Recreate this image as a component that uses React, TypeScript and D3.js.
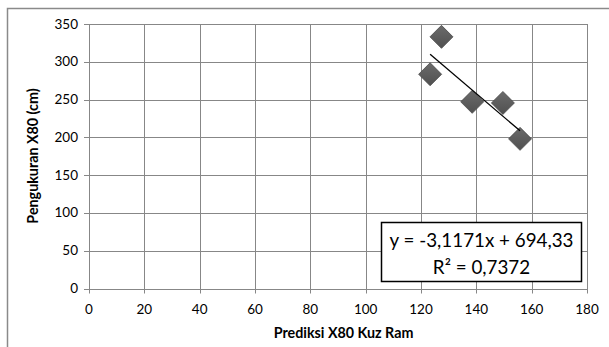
import * as d3 from "d3";
import React, { useEffect, useRef } from "react";

const predX = [123.3, 127.4, 138.5, 149.6, 155.8];
const measY = [283.5, 333, 247, 245.5, 198];
const xTicks = [0, 20, 40, 60, 80, 100, 120, 140, 160, 180];
const yTicks = [0, 50, 100, 150, 200, 250, 300, 350];
const slope = -3.1171;
const intercept = 694.33;
const eqLines = ["y = -3,1171x + 694,33", "R² = 0,7372"];

export default function App() {
  const ref = useRef<SVGSVGElement>(null);

  useEffect(() => {
    const W = 609;
    const H = 347;
    const margin = { top: 24, left: 89, right: 22, bottom: 58.5 };
    const width = W - margin.left - margin.right;
    const height = H - margin.top - margin.bottom;
    const font = "Lato, 'Open Sans', sans-serif";

    const svg = d3.select(ref.current);
    svg.selectAll("*").remove();
    svg
      .attr("width", W)
      .attr("height", H)
      .style("position", "absolute")
      .style("left", "0px")
      .style("top", "0px");

    svg.append("rect").attr("width", W).attr("height", H).attr("fill", "#fff");
    // chart frame, only left and top edges fall inside the picture
    svg
      .append("rect")
      .attr("x", 7.5)
      .attr("y", 8.5)
      .attr("width", W)
      .attr("height", H)
      .attr("fill", "none")
      .attr("stroke", "#8a8a8a")
      .attr("stroke-width", 1.5);

    const x = d3.scaleLinear().domain([0, 180]).range([0, width]);
    const y = d3.scaleLinear().domain([0, 350]).range([height, 0]);

    const main = svg
      .append("g")
      .attr("transform", `translate(${margin.left}, ${margin.top})`);

    // grid
    main
      .selectAll("line.vg")
      .data(xTicks)
      .enter()
      .append("line")
      .attr("x1", (d) => Math.round(x(d)) + 0.5)
      .attr("x2", (d) => Math.round(x(d)) + 0.5)
      .attr("y1", 0)
      .attr("y2", height + 5)
      .attr("stroke", "#878787");
    main
      .selectAll("line.hg")
      .data(yTicks)
      .enter()
      .append("line")
      .attr("x1", -5)
      .attr("x2", width)
      .attr("y1", (d) => Math.round(y(d)) + 0.5)
      .attr("y2", (d) => Math.round(y(d)) + 0.5)
      .attr("stroke", "#878787");

    // tick labels
    main
      .selectAll("text.xt")
      .data(xTicks)
      .enter()
      .append("text")
      .attr("x", (d) => x(d))
      .attr("y", height + 25)
      .attr("text-anchor", "middle")
      .attr("font-family", font)
      .attr("font-size", 13.5)
      .attr("fill", "#000")
      .text((d) => d);
    main
      .selectAll("text.yt")
      .data(yTicks)
      .enter()
      .append("text")
      .attr("x", -11)
      .attr("y", (d) => y(d) + 4.5)
      .attr("text-anchor", "end")
      .attr("font-family", font)
      .attr("font-size", 13.5)
      .attr("fill", "#000")
      .text((d) => d);

    // titles
    svg
      .append("text")
      .attr("x", margin.left + x(92))
      .attr("y", 338)
      .attr("text-anchor", "middle")
      .attr("font-family", font)
      .attr("font-weight", 700)
      .attr("font-size", 14.3)
      .text("Prediksi X80 Kuz Ram");
    svg
      .append("text")
      .attr("transform", `translate(38, 156) rotate(-90)`)
      .attr("text-anchor", "middle")
      .attr("font-family", font)
      .attr("font-weight", 700)
      .attr("font-size", 14.3)
      .text("Pengukuran X80 (cm)");

    // points
    const defs = svg.append("defs");
    const grad = defs
      .append("linearGradient")
      .attr("id", "dg")
      .attr("x1", 0)
      .attr("y1", 0)
      .attr("x2", 0)
      .attr("y2", 1);
    grad.append("stop").attr("offset", "0%").attr("stop-color", "#6b6b6b");
    grad.append("stop").attr("offset", "100%").attr("stop-color", "#505050");

    const pts = predX.map((v, i) => [v, measY[i]]);
    const r = 11.5;
    main
      .selectAll("path.pt")
      .data(pts)
      .enter()
      .append("path")
      .attr(
        "d",
        (d) =>
          `M${x(d[0])},${y(d[1]) - r}L${x(d[0]) + r},${y(d[1])}L${x(d[0])},${y(d[1]) + r}L${x(d[0]) - r},${y(d[1])}Z`
      )
      .attr("fill", "url(#dg)")
      .attr("stroke", "#4a4a4a")
      .attr("stroke-width", 0.8);

    // trendline
    const xMin = d3.min(predX) as number;
    const xMax = d3.max(predX) as number;
    main
      .append("line")
      .attr("x1", x(xMin))
      .attr("y1", y(slope * xMin + intercept))
      .attr("x2", x(xMax))
      .attr("y2", y(slope * xMax + intercept))
      .attr("stroke", "#000")
      .attr("stroke-width", 1.3);

    // equation box
    svg
      .append("rect")
      .attr("x", 381.5)
      .attr("y", 222.5)
      .attr("width", 200)
      .attr("height", 59)
      .attr("fill", "#fff")
      .attr("stroke", "#000")
      .attr("stroke-width", 1.5);
    svg
      .selectAll("text.eq")
      .data(eqLines)
      .enter()
      .append("text")
      .attr("x", 481.5)
      .attr("y", (d, i) => 246.5 + i * 27)
      .attr("text-anchor", "middle")
      .attr("font-family", font)
      .attr("font-size", 18.8)
      .attr("fill", "#000")
      .text((d) => d);
  }, []);

  return (
    <div>
      <svg ref={ref}></svg>
    </div>
  );
}
